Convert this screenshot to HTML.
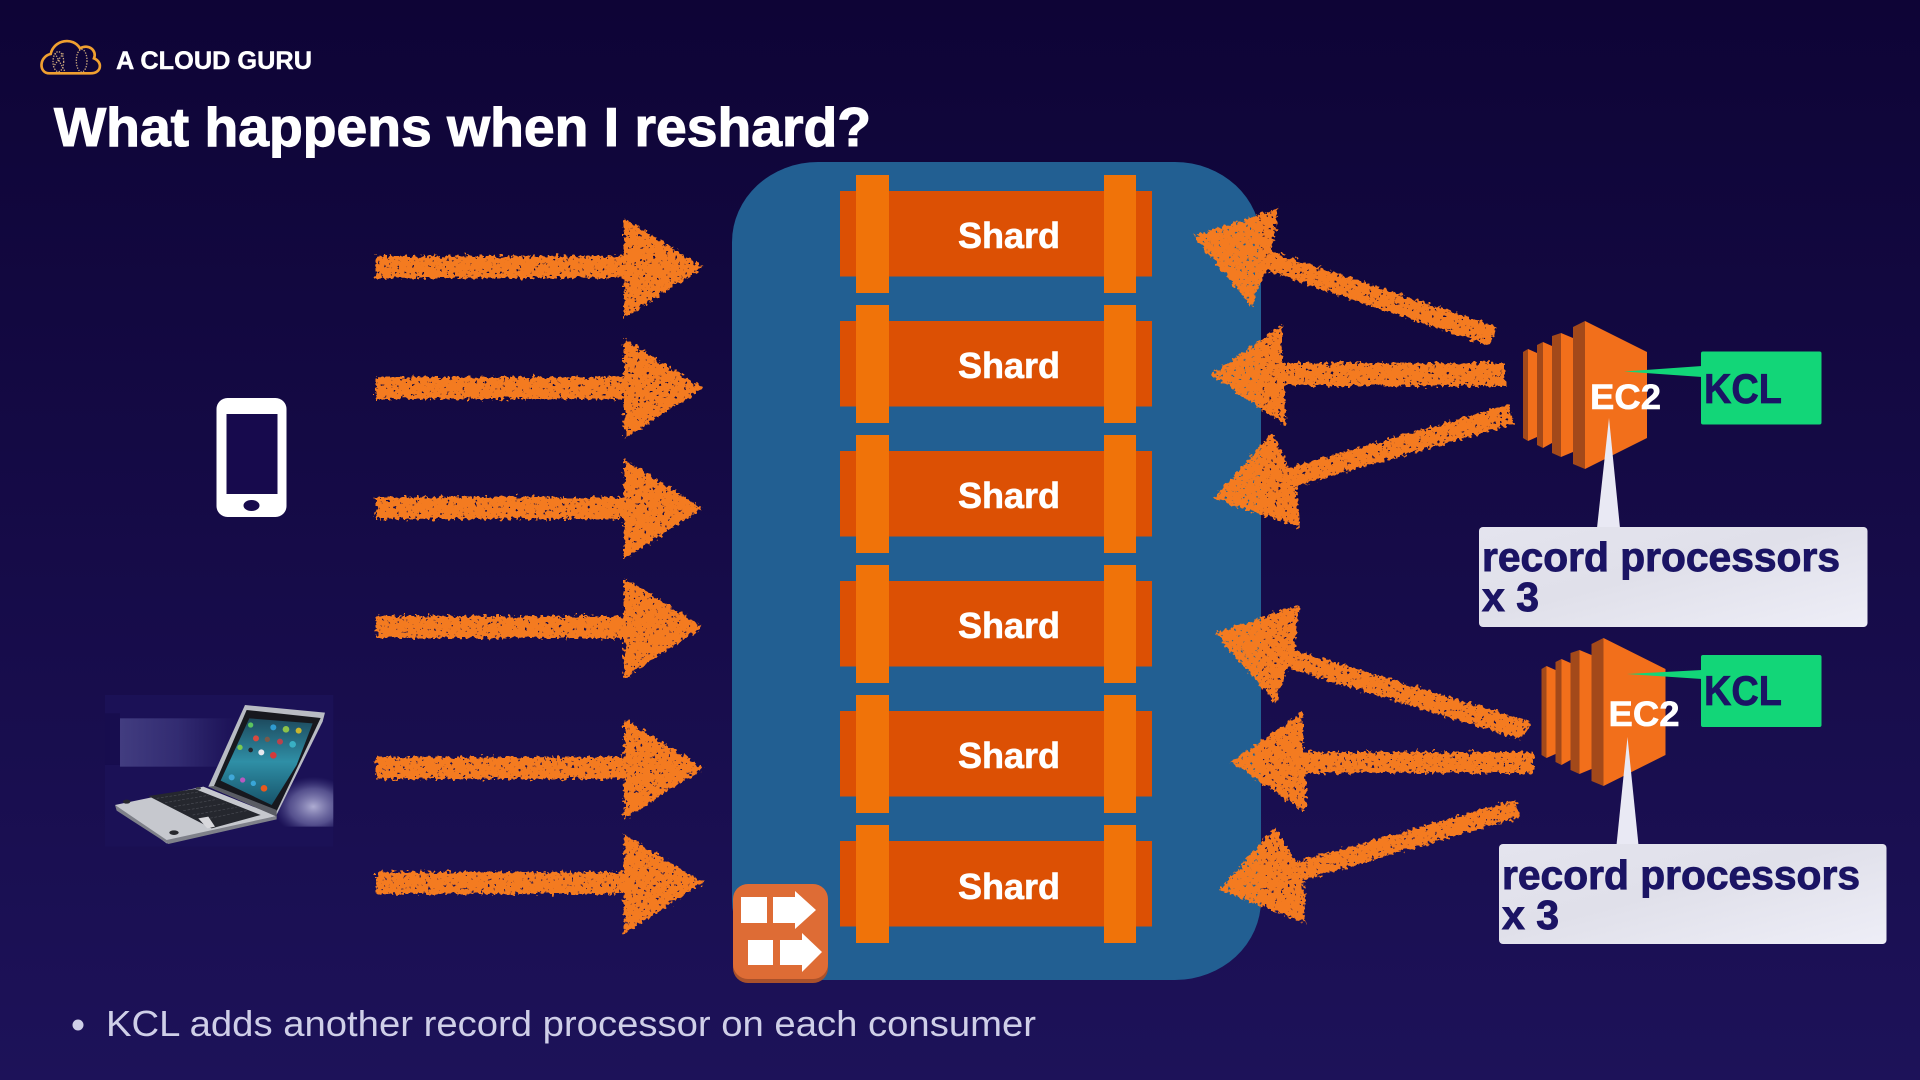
<!DOCTYPE html>
<html lang="en"><head><meta charset="utf-8"><title>What happens when I reshard?</title>
<style>
html,body{margin:0;padding:0;width:1920px;height:1080px;overflow:hidden;background:#150a48}
svg{display:block}
text{font-family:"Liberation Sans",sans-serif}
.b{font-weight:700}
</style></head>
<body>
<svg width="1920" height="1080" viewBox="0 0 1920 1080" xmlns="http://www.w3.org/2000/svg">
<defs>
<linearGradient id="bg" x1="0" y1="0" x2="0" y2="1"><stop offset="0" stop-color="#0e0436"/><stop offset="1" stop-color="#1d1259"/></linearGradient>
<linearGradient id="call" x1="0" y1="0" x2="1" y2="1"><stop offset="0" stop-color="#e4e4ee"/><stop offset=".45" stop-color="#e0e0ea"/><stop offset="1" stop-color="#eeeef7"/></linearGradient>
<linearGradient id="scr" x1="0" y1="0" x2="0" y2="1"><stop offset="0" stop-color="#1d4a5e"/><stop offset=".5" stop-color="#2f8fa6"/><stop offset="1" stop-color="#17536a"/></linearGradient>
<linearGradient id="gl" x1="0" y1="0" x2="1" y2="0"><stop offset="0" stop-color="#5c5a9c" stop-opacity=".6"/><stop offset=".5" stop-color="#55539a" stop-opacity=".4"/><stop offset="1" stop-color="#4a4890" stop-opacity="0"/></linearGradient>
<radialGradient id="gr" cx=".7" cy=".6" r=".6"><stop offset="0" stop-color="#c8c8e8" stop-opacity=".85"/><stop offset=".6" stop-color="#8e8ec4" stop-opacity=".5"/><stop offset="1" stop-color="#5a5a9c" stop-opacity="0"/></radialGradient>
<filter id="rough" filterUnits="userSpaceOnUse" x="340" y="180" width="1240" height="780" color-interpolation-filters="sRGB">
<feTurbulence type="fractalNoise" baseFrequency=".25" numOctaves="2" seed="4" result="n"/>
<feDisplacementMap in="SourceGraphic" in2="n" scale="9" xChannelSelector="R" yChannelSelector="G" result="d"/>
<feTurbulence type="fractalNoise" baseFrequency=".32" numOctaves="2" seed="11"/>
<feColorMatrix type="matrix" values="0 0 0 0 0 0 0 0 0 0 0 0 0 0 0 0 0 0 -14 10.6" result="m"/>
<feComposite in="d" in2="m" operator="in"/>
</filter>
<g id="ec2">
<polygon points="1523,352 1528,349 1528,441 1523,438" fill="#a3491a"/>
<polygon points="1528,349 1537,353 1537,437 1528,441" fill="#f26f1b"/>
<polygon points="1537,345 1543,342 1543,448 1537,445" fill="#a3491a"/>
<polygon points="1543,342 1552,346 1552,443 1543,448" fill="#f26f1b"/>
<polygon points="1552,336 1561,333 1561,457 1552,453" fill="#a3491a"/>
<polygon points="1561,333 1573,338 1573,452 1561,457" fill="#f26f1b"/>
<polygon points="1573,327 1585,321 1585,469 1573,464" fill="#a3491a"/>
<polygon points="1585,321 1647,352 1647,438 1585,469" fill="#f26f1b"/>
</g>
<g id="shard">
<rect x="840" y="16" width="312" height="85.5" fill="#dc5004"/>
<rect x="856" y="0" width="33" height="118" fill="#f07309"/>
<rect x="1104" y="0" width="32" height="118" fill="#f07309"/>
</g>
<polygon id="ra" points="374,255 622,255 622,217 701,266 622,317 622,277 374,277"/>
</defs>
<rect width="1920" height="1080" fill="url(#bg)"/>

<!-- logo -->
<g transform="translate(30,30) scale(.3333)" fill="none">
<path d="M58,130C26,130 26,80 62,72C72,28 130,20 150,55C176,40 202,62 192,85C218,95 216,130 182,130Z" stroke="#f0a030" stroke-width="8"/>
<ellipse cx="85" cy="95" rx="16" ry="30" stroke="#c9a67c" stroke-width="4" stroke-dasharray="4 4"/>
<ellipse cx="155" cy="92" rx="16" ry="34" stroke="#c9a67c" stroke-width="4" stroke-dasharray="4 4"/>
<path d="M75,70L105,125M100,70L70,110" stroke="#c9a67c" stroke-width="4" stroke-dasharray="4 4"/>
</g>
<text class="b" x="116" y="69" font-size="25" fill="#fff" stroke="#fff" stroke-width=".4" textLength="196" lengthAdjust="spacingAndGlyphs">A CLOUD GURU</text>
<text class="b" x="54" y="146" font-size="54.5" fill="#fff" stroke="#fff" stroke-width="1.1" textLength="817" lengthAdjust="spacingAndGlyphs">What happens when I reshard?</text>

<!-- stream -->
<rect x="732" y="162" width="529" height="818" rx="86" ry="80" fill="#225f92"/>
<use href="#shard" x="0" y="175"/>
<use href="#shard" x="0" y="305"/>
<use href="#shard" x="0" y="435"/>
<use href="#shard" x="0" y="565"/>
<use href="#shard" x="0" y="695"/>
<use href="#shard" x="0" y="825"/>
<g class="b" font-size="36" fill="#fff" stroke="#fff" stroke-width=".6" text-anchor="middle" font-weight="700">
<text x="1009" y="248">Shard</text>
<text x="1009" y="378">Shard</text>
<text x="1009" y="508">Shard</text>
<text x="1009" y="638">Shard</text>
<text x="1009" y="768">Shard</text>
<text x="1009" y="899">Shard</text>
</g>

<!-- reshard icon -->
<rect x="733" y="887" width="95" height="96" rx="15" fill="#a9512b"/>
<rect x="733" y="884" width="95" height="95" rx="15" fill="#de6c35"/>
<g fill="#fff">
<rect x="741" y="897" width="26" height="26"/>
<polygon points="773,897 795,897 795,891 816,910 795,929 795,923 773,923"/>
<rect x="748" y="940" width="25" height="25"/>
<polygon points="780,940 802,940 802,933 822,952 802,972 802,965 780,965"/>
</g>

<!-- phone -->
<rect x="216.5" y="398" width="70" height="119" rx="11" fill="#fff"/>
<rect x="226.5" y="414" width="51" height="80" fill="#170a4d"/>
<ellipse cx="251.5" cy="505.5" rx="8" ry="5.5" fill="#170a4d"/>

<!-- laptop -->
<g transform="translate(100,690) scale(.3333)">
<rect x="15" y="15" width="685" height="455" fill="#1b1156"/>
<rect x="15" y="70" width="45" height="155" fill="#170d4e"/>
<rect x="60" y="85" width="350" height="145" fill="url(#gl)"/>
<rect x="500" y="260" width="200" height="150" fill="url(#gr)"/>
<polygon points="435,45 675,68 668,95 528,378 325,290" fill="#b9bcc4"/>
<polygon points="440,60 662,84 528,368 342,288" fill="#17181e"/>
<polygon points="448,85 638,100 590,225 515,345 362,272" fill="url(#scr)"/>
<g>
<circle cx="452" cy="105" r="8" fill="#5bc45f"/><circle cx="520" cy="112" r="9" fill="#2f9bd0"/><circle cx="558" cy="118" r="10" fill="#8cc24a"/><circle cx="596" cy="122" r="9" fill="#c9b52e"/>
<circle cx="468" cy="145" r="9" fill="#d8493f"/><circle cx="502" cy="148" r="8" fill="#7a5a4a"/><circle cx="540" cy="155" r="9" fill="#b9434c"/><circle cx="578" cy="163" r="10" fill="#39b0c4"/>
<circle cx="420" cy="172" r="8" fill="#7cc94f"/><circle cx="452" cy="180" r="7" fill="#22262c"/><circle cx="484" cy="187" r="9" fill="#e8e8ee"/><circle cx="520" cy="196" r="10" fill="#d33a3a"/>
<circle cx="395" cy="262" r="9" fill="#40a8d8"/><circle cx="428" cy="270" r="8" fill="#b85ac0"/><circle cx="460" cy="280" r="8" fill="#39a6d8"/><circle cx="492" cy="295" r="10" fill="#e8591e"/>
</g>
<polygon points="45,345 310,290 530,378 200,460" fill="#c6c8ce"/>
<polygon points="45,345 200,450 530,378 530,388 205,462 50,362" fill="#7f818a"/>
<polygon points="145,318 285,297 482,375 335,415" fill="#25272e"/>
<g stroke="#4a4c54" stroke-width="2" stroke-dasharray="8 5" fill="none">
<path d="M170,325L300,305M195,338L325,316M222,350L352,328M250,362L380,340M278,375L410,352M305,390L440,362"/>
</g>
<polygon points="295,385 325,380 345,410 322,415" fill="#d8d8dc"/>
<polygon points="325,290 345,288 530,360 530,380" fill="#5a5c64"/>
<ellipse cx="80" cy="335" rx="11" ry="6" fill="#26272c"/><ellipse cx="222" cy="428" rx="14" ry="7" fill="#26272c"/><ellipse cx="295" cy="295" rx="8" ry="4" fill="#44464c"/>
</g>

<!-- EC2 -->
<use href="#ec2"/>
<use href="#ec2" x="18.5" y="317"/>

<!-- arrows -->
<g fill="#f47b20" filter="url(#rough)">
<use href="#ra" x="2" y="1"/><use href="#ra" x="2" y="122"/><use href="#ra" x="2" y="242"/><use href="#ra" x="2" y="361"/><use href="#ra" x="2" y="502"/><use href="#ra" x="2" y="617"/>
<polygon points="1497,327 1272,252 1278,209 1194,236 1251,306 1266,270 1489,346"/>
<polygon points="1505,363 1282,363 1282,325 1211,375 1285,425 1285,386 1505,386"/>
<polygon points="1508,405 1288,468 1272,432 1214,498 1300,528 1296,486 1514,424"/>
<polygon points="1531,722 1294,650 1300,605 1215,633 1275,703 1288,668 1520,739"/>
<polygon points="1533,752 1303,752 1303,712 1231,762 1306,812 1306,773 1533,773"/>
<polygon points="1516,800 1296,862 1275,827 1220,890 1306,923 1303,880 1520,817"/>
</g>

<!-- KCL -->
<rect x="1701" y="351.5" width="120.5" height="73" rx="2" fill="#12d678"/>
<polygon points="1702,366 1624,371.5 1702,377" fill="#12d678"/>
<rect x="1701" y="655" width="120.5" height="72" rx="2" fill="#12d678"/>
<polygon points="1702,670 1627,674 1702,679" fill="#12d678"/>
<g class="b" font-size="42" fill="#1b1464" stroke="#1b1464" stroke-width=".7" font-weight="700">
<text x="1704" y="403" textLength="78" lengthAdjust="spacingAndGlyphs">KCL</text>
<text x="1704" y="705" textLength="78" lengthAdjust="spacingAndGlyphs">KCL</text>
</g>

<!-- callouts -->
<polygon points="1609,418 1597,528 1620,528" fill="#e9e9f4"/>
<rect x="1479" y="527" width="388.5" height="100" rx="4" fill="url(#call)"/>
<polygon points="1627.5,737 1616.5,845 1638.5,845" fill="#e9e9f4"/>
<rect x="1499" y="844" width="387.5" height="100" rx="4" fill="url(#call)"/>
<g class="b" font-size="41" fill="#1b1464" stroke="#1b1464" stroke-width=".9" font-weight="700">
<text x="1482" y="571" textLength="358" lengthAdjust="spacingAndGlyphs">record processors</text>
<text x="1482" y="611">x 3</text>
<text x="1502" y="889" textLength="358" lengthAdjust="spacingAndGlyphs">record processors</text>
<text x="1502" y="929">x 3</text>
</g>
<g class="b" font-size="35" fill="#fff" stroke="#fff" stroke-width=".6" font-weight="700">
<text x="1590" y="409" textLength="71" lengthAdjust="spacingAndGlyphs">EC2</text>
<text x="1608.5" y="726" textLength="71" lengthAdjust="spacingAndGlyphs">EC2</text>
</g>

<!-- bullet -->
<circle cx="78" cy="1025" r="5.5" fill="#cfcfe8"/>
<text x="106" y="1036" font-size="36" fill="#cfcfe8" textLength="930" lengthAdjust="spacingAndGlyphs">KCL adds another record processor on each consumer</text>
</svg>
</body></html>
